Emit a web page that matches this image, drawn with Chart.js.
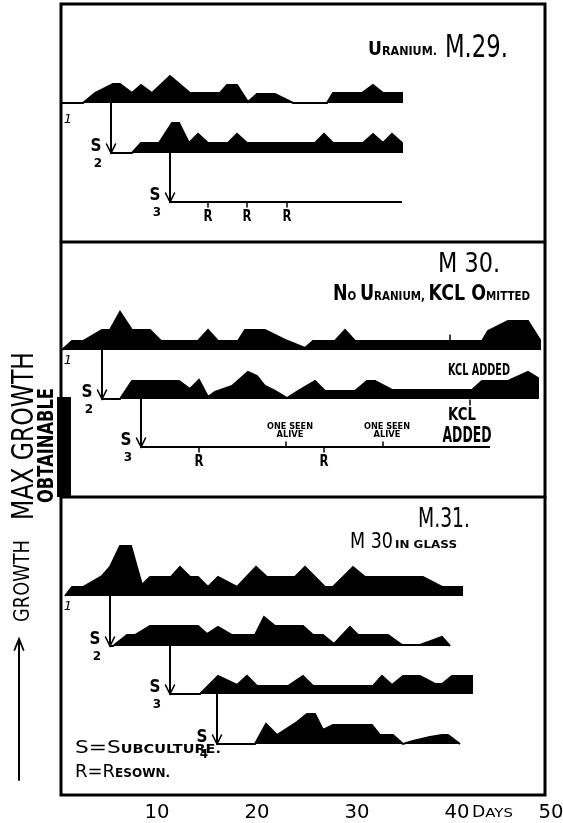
<!DOCTYPE html>
<html>
<head>
<meta charset="utf-8">
<script src="https://cdn.jsdelivr.net/npm/chart.js@4.4.1/dist/chart.umd.min.js"></script>
<style>
  html, body { margin: 0; padding: 0; background: #fff; }
  canvas { display: block; }
</style>
</head>
<body>
<canvas id="chart" width="563" height="823"></canvas>
<script>
// ---- data: day of each reading and the growth seen (max obtainable = 10) ----
const dayTicks = [10, 20, 30, 40, 50];
const maxGrowth = 10;

// M 29 (uranium)
const m29s1Days   = [0.4, 2.6, 3.8, 5.6, 6.3, 7.5, 8.4, 9.5, 11.3, 13.3, 16.3, 17.0, 18.0, 19.1, 20.0, 21.8, 23.6, 27.0, 27.6, 30.5, 31.6, 32.6, 34.5, 34.5];
const m29s1Growth = [0, 0, 1.0, 1.9, 1.9, 1.0, 1.8, 1.0, 2.7, 1.0, 1.0, 1.8, 1.8, 0.1, 0.9, 0.9, 0, 0, 1.0, 1.0, 1.8, 1.0, 1.0, 0];
const m29s2Days   = [5.4, 7.5, 8.4, 10.2, 11.5, 12.2, 13.2, 14.1, 15.1, 17.1, 18.0, 19.0, 25.8, 26.7, 27.6, 30.6, 31.6, 32.6, 33.5, 34.5, 34.5];
const m29s2Growth = [0, 0, 1.0, 1.0, 3.0, 3.0, 1.0, 1.9, 1.0, 1.0, 1.9, 1.0, 1.0, 1.9, 1.0, 1.0, 1.9, 1.0, 1.9, 1.0, 0];
const m29s3Days   = [11.3, 34.5];
const m29s3Growth = [0, 0];
const m29Resown   = [15.1, 19.0, 23.0];

// M 30 (no uranium, KCl omitted)
const m30s1Days   = [0.5, 1.5, 2.6, 4.5, 5.3, 6.3, 7.5, 9.3, 10.4, 14.1, 15.1, 16.1, 18.1, 18.8, 20.8, 22.8, 24.8, 25.6, 27.8, 28.8, 29.8, 42.5, 43.1, 45.1, 47.1, 48.3, 48.3];
const m30s1Growth = [0, 0.9, 0.9, 2.0, 2.0, 3.8, 2.0, 2.0, 0.9, 0.9, 2.0, 0.9, 0.9, 2.0, 2.0, 1.0, 0.2, 0.9, 0.9, 2.0, 0.9, 0.9, 1.9, 2.9, 2.9, 1.0, 0];
const m30s2Days   = [4.5, 6.3, 7.5, 12.2, 13.3, 14.2, 15.1, 15.8, 17.5, 19.1, 20.0, 20.8, 21.8, 23.0, 24.1, 25.8, 26.8, 29.8, 31.0, 31.8, 33.5, 41.5, 42.5, 45.1, 47.1, 48.1, 48.1];
const m30s2Growth = [0, 0, 1.8, 1.8, 1.0, 1.9, 0.2, 0.7, 1.3, 2.7, 2.3, 1.3, 0.8, 0.1, 0.8, 1.8, 0.8, 0.8, 1.8, 1.8, 0.9, 0.9, 1.8, 1.8, 2.7, 2.1, 0];
const m30s3Days   = [8.4, 43.3];
const m30s3Growth = [0, 0];
const m30Resown   = [14.2, 26.7];
const m30SeenAlive = [22.9, 32.6];
const m30KclS1    = 39.3;
const m30KclS3    = 41.3;

// M 31 (M 30 in glass)
const m31s1Days   = [0.8, 1.5, 2.6, 4.5, 5.3, 6.3, 7.4, 8.5, 9.3, 11.4, 12.3, 13.3, 14.1, 15.1, 16.1, 18.0, 19.9, 21.0, 23.8, 24.8, 26.8, 27.6, 29.6, 30.8, 36.6, 38.5, 40.5, 40.5];
const m31s1Growth = [0, 0.9, 0.9, 2.0, 2.9, 5.0, 5.0, 1.1, 1.9, 1.9, 2.9, 1.9, 1.9, 0.9, 1.9, 0.9, 2.9, 1.9, 1.9, 2.9, 0.9, 0.9, 2.9, 1.9, 1.9, 0.9, 0.9, 0];
const m31s2Days   = [5.3, 5.6, 7.0, 7.8, 9.3, 14.1, 15.0, 16.1, 17.5, 19.8, 20.7, 21.8, 24.6, 25.6, 26.6, 27.7, 29.3, 30.1, 33.1, 34.5, 36.3, 38.5, 39.3];
const m31s2Growth = [0, 0, 1.1, 1.1, 2.0, 2.0, 1.2, 1.9, 1.1, 1.1, 2.9, 2.0, 2.0, 1.1, 1.1, 0.2, 1.9, 1.1, 1.1, 0.1, 0.1, 0.9, 0];
const m31s3Days   = [11.3, 14.3, 16.1, 18.0, 19.0, 20.0, 23.1, 24.6, 25.6, 31.6, 32.5, 33.5, 34.6, 36.3, 37.8, 38.5, 39.5, 41.5, 41.5];
const m31s3Growth = [0, 0, 1.8, 0.9, 1.8, 0.8, 0.8, 1.8, 0.8, 0.8, 1.8, 0.9, 1.8, 1.8, 1.0, 1.0, 1.8, 1.8, 0];
const m31s4Days   = [16.0, 19.8, 20.9, 22.0, 24.0, 25.0, 25.8, 26.6, 27.6, 31.5, 32.3, 33.6, 34.6, 35.6, 37.3, 38.5, 39.1, 40.3];
const m31s4Growth = [0, 0, 2.0, 0.9, 2.2, 3.0, 3.0, 1.4, 1.9, 1.9, 0.9, 0.9, 0, 0.3, 0.7, 0.9, 0.9, 0];

// ---- layout ----
const W = 563, H = 823;
const UNIT_PX = 10;                 // pixels per growth unit
const FONT = '"DejaVu Sans", sans-serif';
const FRAME = { left: 61, right: 545, top: 4, bottom: 795, dividers: [242, 497] };

// each culture row sits on its own baseline (pixel row), subcultures point to their parent
const rows = [
  { days: m29s1Days, growth: m29s1Growth, base: 103, first: true },
  { days: m29s2Days, growth: m29s2Growth, base: 153, parent: 0, tag: '2' },
  { days: m29s3Days, growth: m29s3Growth, base: 202, parent: 1, tag: '3', resown: m29Resown },
  { days: m30s1Days, growth: m30s1Growth, base: 350, first: true },
  { days: m30s2Days, growth: m30s2Growth, base: 399, parent: 3, tag: '2' },
  { days: m30s3Days, growth: m30s3Growth, base: 447, parent: 4, tag: '3', resown: m30Resown },
  { days: m31s1Days, growth: m31s1Growth, base: 596, first: true },
  { days: m31s2Days, growth: m31s2Growth, base: 646, parent: 6, tag: '2' },
  { days: m31s3Days, growth: m31s3Growth, base: 694, parent: 7, tag: '3' },
  { days: m31s4Days, growth: m31s4Growth, base: 744, parent: 8, tag: '4' }
];
const baseValue = px => (H - px) / UNIT_PX;

const datasets = rows.map(r => {
  const b = baseValue(r.base);
  return {
    data: r.days.map((d, i) => ({ x: d, y: b + r.growth[i] })),
    borderColor: '#000',
    backgroundColor: '#000',
    borderWidth: 2,
    pointRadius: 0,
    tension: 0,
    fill: { value: b },
    clip: false
  };
});

// draws text made of runs of different sizes, optionally squeezed to a width / rotated
function textRun(ctx, parts, x, y, o = {}) {
  let total = 0;
  const widths = parts.map(p => {
    ctx.font = `${p[2] || o.weight || 'normal'} ${p[1]}px ${FONT}`;
    const w = ctx.measureText(p[0]).width;
    total += w;
    return w;
  });
  const sx = o.width ? o.width / total : 1;
  ctx.save();
  ctx.translate(x, y);
  if (o.rot) ctx.rotate(o.rot);
  ctx.scale(sx, 1);
  let cx = o.align === 'center' ? -total / 2 : o.align === 'right' ? -total : 0;
  ctx.textAlign = 'left';
  ctx.textBaseline = 'alphabetic';
  ctx.fillStyle = '#000';
  parts.forEach((p, i) => {
    ctx.font = `${p[2] || o.weight || 'normal'} ${p[1]}px ${FONT}`;
    ctx.fillText(p[0], cx, 0);
    cx += widths[i];
  });
  ctx.restore();
}

function line(ctx, x1, y1, x2, y2, w) {
  ctx.beginPath();
  ctx.lineWidth = w;
  ctx.moveTo(x1, y1);
  ctx.lineTo(x2, y2);
  ctx.stroke();
}

const background = {
  id: 'background',
  beforeDraw(chart) {
    const ctx = chart.ctx;
    ctx.save();
    ctx.fillStyle = '#fff';
    ctx.fillRect(0, 0, chart.width, chart.height);
    ctx.restore();
  }
};

const annotations = {
  id: 'annotations',
  afterDatasetsDraw(chart) {
    const ctx = chart.ctx;
    const xs = chart.scales.x, ys = chart.scales.y;
    const px = d => xs.getPixelForValue(d);
    ctx.save();
    ctx.strokeStyle = '#000';
    ctx.fillStyle = '#000';
    ctx.lineCap = 'round';

    // frame and panel dividers
    ctx.lineWidth = 3;
    ctx.strokeRect(FRAME.left, FRAME.top, FRAME.right - FRAME.left, FRAME.bottom - FRAME.top);
    FRAME.dividers.forEach(y => line(ctx, FRAME.left, y, FRAME.right, y, 3));

    // maximum growth obtainable bar
    const barH = ys.getPixelForValue(0) - ys.getPixelForValue(maxGrowth);
    const barBottom = FRAME.dividers[1];
    ctx.fillRect(px(0), barBottom - barH, px(1.4) - px(0), barH);

    // subculture arrows and S labels
    rows.forEach(r => {
      if (r.first) {
        textRun(ctx, [['1', 13, 'italic']], 68, r.base + (r.base < 200 ? 20 : 14), { align: 'center' });
      }
      if (r.parent === undefined) return;
      const x = px(r.days[0]);
      const top = rows[r.parent].base;
      line(ctx, x, top, x, r.base, 2);
      ctx.lineWidth = 1.6;
      ctx.beginPath();
      ctx.moveTo(x - 4.5, r.base - 9);
      ctx.lineTo(x, r.base);
      ctx.lineTo(x + 4.5, r.base - 9);
      ctx.stroke();
      textRun(ctx, [['S', 18, 'bold']], x - 15, r.base - 2, { align: 'center', width: 11 });
      textRun(ctx, [[r.tag, 12, 'bold']], x - 13, r.base + 14, { align: 'center' });
      if (r.resown) {
        r.resown.forEach(d => {
          line(ctx, px(d), r.base, px(d), r.base + 5, 1.5);
          textRun(ctx, [['R', 15, 'bold']], px(d), r.base + 19, { align: 'center', width: 9 });
        });
      }
    });

    // M 30 notes
    const m30s3 = rows[5], m30s1 = rows[3], m30s2 = rows[4];
    m30SeenAlive.forEach(d => {
      line(ctx, px(d), m30s3.base - 5, px(d), m30s3.base, 1.5);
      textRun(ctx, [['ONE SEEN', 9, 'bold']], px(d) + 4, m30s3.base - 18, { align: 'center', width: 46 });
      textRun(ctx, [['ALIVE', 9, 'bold']], px(d) + 4, m30s3.base - 10, { align: 'center', width: 27 });
    });
    const kTop = ys.getPixelForValue(baseValue(m30s1.base) + 0.9);
    line(ctx, px(m30KclS1), kTop - 6, px(m30KclS1), kTop, 1.5);
    textRun(ctx, [['KCL ADDED', 16, 'bold']], 448, m30s1.base + 25, { width: 62 });
    line(ctx, px(m30KclS3), m30s2.base + 1, px(m30KclS3), m30s2.base + 6, 1.5);
    textRun(ctx, [['KCL', 18, 'bold']], 462, 420, { align: 'center', width: 28 });
    textRun(ctx, [['ADDED', 22, 'bold']], 467, 442, { align: 'center', width: 49 });

    // panel titles
    textRun(ctx, [['U', 20, 'bold'], ['RANIUM.', 13, 'bold']], 368, 55, { width: 69 });
    textRun(ctx, [['M.29.', 32]], 445, 57, { width: 63 });
    textRun(ctx, [['M 30.', 27]], 438, 272, { width: 62 });
    textRun(ctx, [['N', 22, 'bold'], ['O ', 13, 'bold'], ['U', 22, 'bold'], ['RANIUM, ', 13, 'bold'],
                  ['KCL ', 22, 'bold'], ['O', 22, 'bold'], ['MITTED', 13, 'bold']], 333, 300, { width: 197 });
    textRun(ctx, [['M.31.', 27]], 418, 527, { width: 52 });
    textRun(ctx, [['M 30', 22]], 350, 548, { width: 43 });
    textRun(ctx, [['IN GLASS', 11, 'bold']], 395, 548, { width: 62 });

    // key
    textRun(ctx, [['S', 18], ['=', 18], ['S', 18], ['UBCULTURE.', 12, 'bold']], 75, 753, { width: 146 });
    textRun(ctx, [['R', 18], ['=', 18], ['R', 18], ['ESOWN.', 12, 'bold']], 75, 777, { width: 95 });

    // left side labels
    textRun(ctx, [['MAX GROWTH', 31]], 33, 520, { rot: -Math.PI / 2, width: 168 });
    textRun(ctx, [['OBTAINABLE', 21, 'bold']], 53, 503, { rot: -Math.PI / 2, width: 115 });
    textRun(ctx, [['GROWTH', 22]], 29, 622, { rot: -Math.PI / 2, width: 82 });
    line(ctx, 19, 780, 19, 640, 2);
    ctx.lineWidth = 1.8;
    ctx.beginPath();
    ctx.moveTo(14.5, 650);
    ctx.lineTo(19, 639);
    ctx.lineTo(23.5, 650);
    ctx.stroke();

    // day axis labels
    dayTicks.forEach(t => {
      const x = Math.min(px(t), 551);
      textRun(ctx, [[String(t), 20]], x, 818, { align: 'center', width: 25 });
    });
    textRun(ctx, [['D', 15], ['AYS', 13]], 472, 817, { width: 41 });

    ctx.restore();
  }
};

new Chart(document.getElementById('chart'), {
  type: 'line',
  data: { datasets },
  options: {
    responsive: false,
    animation: false,
    events: [],
    layout: { padding: { left: 57, right: W - 557, top: 0, bottom: 0 } },
    plugins: { legend: { display: false }, tooltip: { enabled: false } },
    scales: {
      x: { type: 'linear', min: 0, max: 50, display: false },
      y: { type: 'linear', min: 0, max: H / UNIT_PX, display: false }
    }
  },
  plugins: [background, annotations]
});
</script>
</body>
</html>
